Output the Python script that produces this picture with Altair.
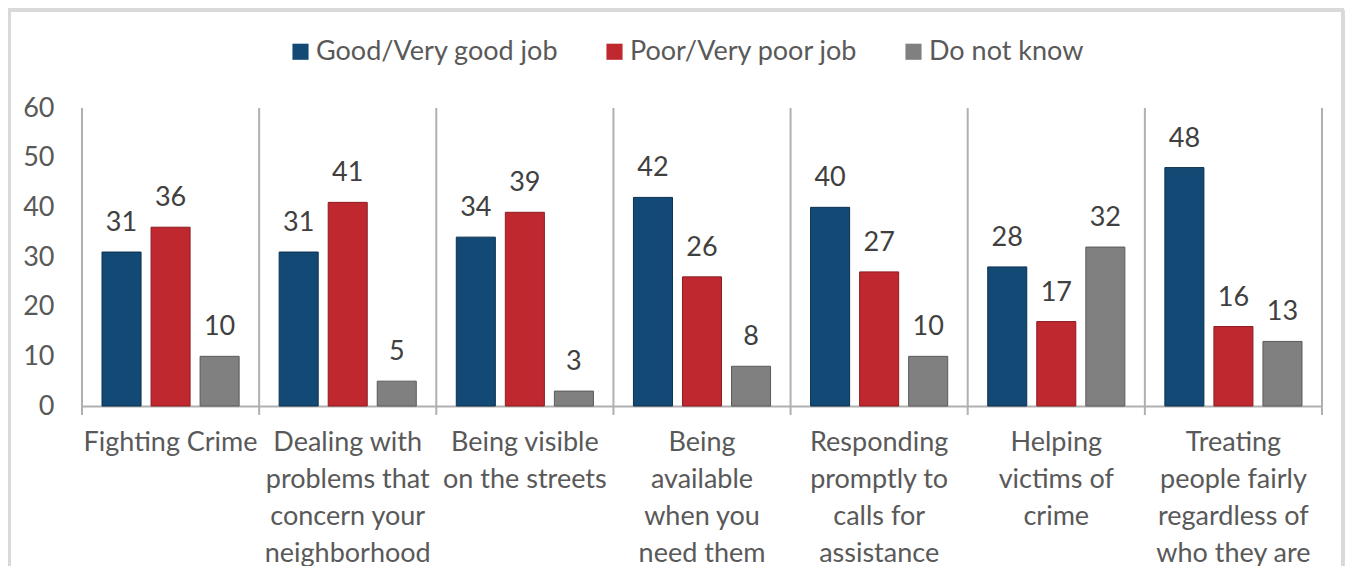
import altair as alt
import pandas as pd

categories = [
    "Fighting Crime",
    "Dealing with|problems that|concern your|neighborhood",
    "Being visible|on the streets",
    "Being|available|when you|need them",
    "Responding|promptly to|calls for|assistance",
    "Helping|victims of|crime",
    "Treating|people fairly|regardless of|who they are",
]
series = ["Good/Very good job", "Poor/Very poor job", "Do not know"]
good = [31, 31, 34, 42, 40, 28, 48]
poor = [36, 41, 39, 26, 27, 17, 16]
dont_know = [10, 5, 3, 8, 10, 32, 13]
y_ticks = [0, 10, 20, 30, 40, 50, 60]
colors = ["#134a75", "#c0282f", "#808080"]
strokes = ["#0b3050", "#8c1c22", "#5a5a5a"]

rows = []
for i, c in enumerate(categories):
    for s, vals in zip(series, [good, poor, dont_know]):
        rows.append({"category": c, "series": s, "value": vals[i], "order": i})
df = pd.DataFrame(rows)
sep_df = pd.DataFrame({"category": categories})

W, H = 1240, 298
FONT = "Lato"
FS = 27
TXT = "#595959"

x_enc = alt.X(
    "category:N",
    sort=categories,
    scale=alt.Scale(paddingInner=0, paddingOuter=0),
    axis=alt.Axis(
        title=None,
        labelAngle=0,
        labelAlign="center",
        bandPosition=0.5,
        labelExpr="split(datum.label, '|')",
        labelFont=FONT,
        labelFontSize=FS,
        labelColor=TXT,
        labelLineHeight=37,
        labelPadding=23,
        labelBaseline="top",
        labelLimit=400,
        labelOverlap=False,
        ticks=False,
        domain=True,
        domainColor="#b0b0b0",
        domainWidth=2,
        grid=False,
    ),
)
xoff = alt.XOffset("series:N", sort=series,
                   scale=alt.Scale(paddingInner=0.204, paddingOuter=0.408))
y_enc = alt.Y(
    "value:Q",
    scale=alt.Scale(domain=[0, 60], nice=False),
    axis=alt.Axis(
        title=None,
        values=y_ticks,
        labelFont=FONT,
        labelFontSize=FS,
        labelColor=TXT,
        labelPadding=28,
        ticks=False,
        domain=False,
        grid=False,
    ),
)

bars = alt.Chart(df).mark_bar(strokeWidth=1).encode(
    x=x_enc,
    xOffset=xoff,
    y=y_enc,
    color=alt.Color(
        "series:N",
        sort=series,
        scale=alt.Scale(domain=series, range=colors),
        legend=alt.Legend(
            title=None,
            orient="none",
            direction="horizontal",
            legendX=205,
            legendY=-70,
            symbolType="square",
            symbolSize=260,
            symbolStrokeWidth=0,
            labelFont=FONT,
            labelFontSize=FS,
            labelColor=TXT,
            labelOffset=2,
            columnPadding=42,
            labelLimit=400,
        ),
    ),
    stroke=alt.Stroke("series:N", sort=series,
                      scale=alt.Scale(domain=series, range=strokes), legend=None),
)

labels = alt.Chart(df).mark_text(
    baseline="bottom", dy=-15, font=FONT, fontSize=FS, color="#404040"
).encode(
    x=alt.X("category:N", sort=categories),
    xOffset=alt.XOffset("series:N", sort=series),
    y="value:Q",
    text="value:Q",
)

seps = alt.Chart(sep_df).mark_rule(color="#b0b0b0", strokeWidth=2).encode(
    x=alt.X("category:N", sort=categories, bandPosition=0),
    y=alt.value(0),
    y2=alt.value(H + 9),
)
right_sep = alt.Chart(sep_df).mark_rule(color="#b0b0b0", strokeWidth=2).encode(
    x=alt.value(W), y=alt.value(0), y2=alt.value(H + 9)
)

FR = "#d9d9d9"
frame_top = alt.Chart(sep_df).mark_rule(color=FR, strokeWidth=3).encode(
    x=alt.value(-74), x2=alt.value(1262), y=alt.value(-98)
)
frame_left = alt.Chart(sep_df).mark_rule(color=FR, strokeWidth=3).encode(
    x=alt.value(-73), y=alt.value(-98), y2=alt.value(480)
)
frame_right = alt.Chart(sep_df).mark_rule(color=FR, strokeWidth=3).encode(
    x=alt.value(1261), y=alt.value(-98), y2=alt.value(480)
)

chart = alt.layer(
    frame_top, frame_left, frame_right, seps, right_sep, bars, labels
).properties(
    width=W,
    height=H,
    padding={"left": 74, "top": 100, "right": 23, "bottom": 160},
    autosize=alt.AutoSizeParams(type="none"),
    background="white",
).configure_view(stroke=None)

chart.save("out.html", embed_options={"renderer": "svg", "actions": False})
